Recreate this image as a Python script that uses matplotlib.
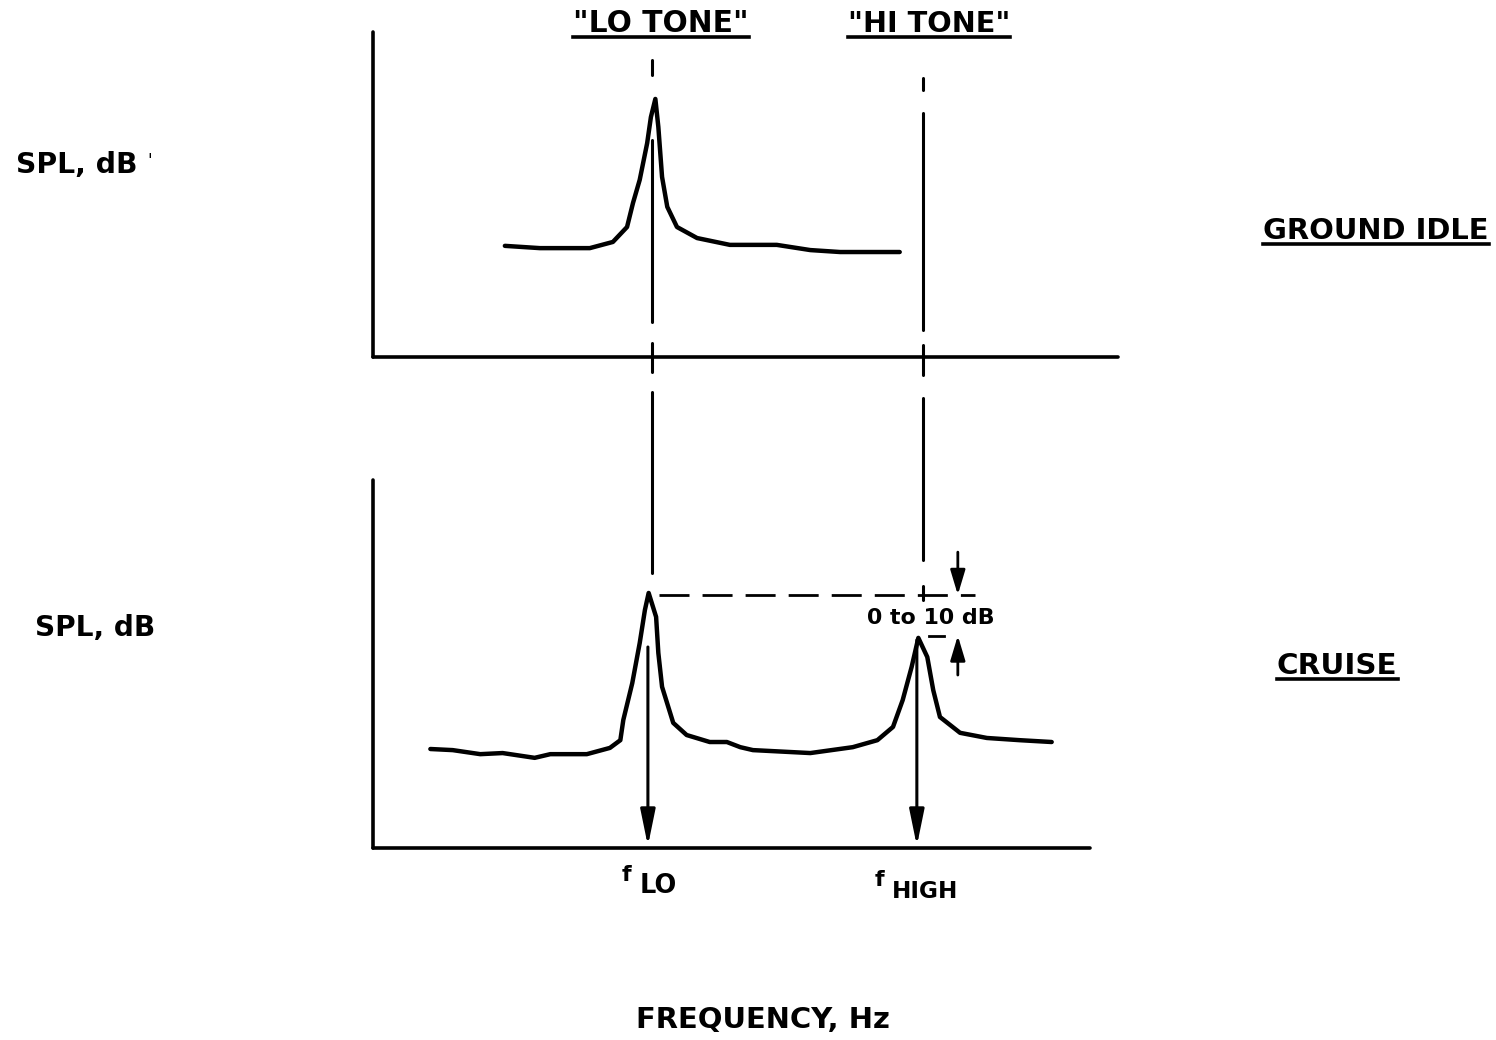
import matplotlib
matplotlib.use('Agg')
import matplotlib.pyplot as plt
import matplotlib.transforms as mtransforms
from matplotlib.lines import Line2D

W, H = 1496, 1040
FONT = 'DejaVu Sans'

# ---------------- data (frequency in % of axis, SPL in % of axis) ----------------
freq_lo_tone = 37.5
freq_hi_tone = 73.8
arrow_freqs = [36.9, 73.0]

ground_f = [17.7, 22.4, 29.1, 32.2, 34.1, 34.9, 35.8, 36.8, 37.3, 37.9, 38.3, 38.8,
            39.5, 40.8, 43.5, 47.9, 54.2, 58.7, 62.7, 70.7]
ground_spl = [34.2, 33.5, 33.5, 35.4, 40.0, 47.4, 54.5, 65.8, 73.8, 79.4, 70.8, 55.4,
              46.2, 40.0, 36.6, 34.5, 34.5, 32.9, 32.3, 32.3]

cruise_f = [7.7, 10.7, 14.4, 17.4, 21.7, 23.8, 28.7, 31.8, 33.2, 33.6, 34.8, 35.8,
            36.5, 37.0, 38.0, 38.3, 38.8, 40.3, 42.1, 45.2, 47.5, 49.3, 51.0, 58.7,
            64.4, 67.7, 69.8, 71.1, 72.3, 73.2, 74.4, 75.2, 76.1, 78.8, 82.4, 86.8, 91.1]
cruise_spl = [26.9, 26.6, 25.5, 25.8, 24.5, 25.5, 25.5, 27.2, 29.3, 34.8, 44.8, 55.7,
              64.7, 69.3, 62.8, 53.0, 43.8, 34.0, 30.7, 28.8, 28.8, 27.4, 26.6, 25.8,
              27.4, 29.3, 32.9, 40.2, 49.2, 57.1, 51.9, 42.9, 35.6, 31.3, 29.9, 29.3, 28.8]

lo_peak_level = 68.8
hi_peak_level = 57.7

tone_labels = ['"LO TONE"', '"HI TONE"']
panel_labels = ['GROUND IDLE', 'CRUISE']
y_label = 'SPL, dB'
x_label = 'FREQUENCY, Hz'
level_label = '0 to 10 dB'
freq_sym = 'f'
freq_subs = ['LO', 'HIGH']

# ---------------- figure ----------------
fig = plt.figure(figsize=(W / 100, H / 100), dpi=100)
fig.patch.set_facecolor('white')


def fx(px):
    return px / W


def fy(py):
    return 1 - py / H


left, right = 373, 1118
ax_top = fig.add_axes([fx(left), fy(357), (right - left) / W, (357 - 32) / H])
ax_bot = fig.add_axes([fx(left), fy(848), (right - left) / W, (848 - 480) / H])
for ax in (ax_top, ax_bot):
    ax.set_xlim(0, 100)
    ax.set_ylim(0, 100)
    ax.spines['top'].set_visible(False)
    ax.spines['right'].set_visible(False)
    for s in ('left', 'bottom'):
        ax.spines[s].set_linewidth(2.6)
        ax.spines[s].set_capstyle('round')
    ax.set_xticks([])
    ax.set_yticks([])
    ax.patch.set_visible(False)
ax_bot.spines['bottom'].set_bounds(0, 96.2)

ax_top.plot(ground_f, ground_spl, color='black', lw=3.2,
            solid_joinstyle='round', solid_capstyle='round')
ax_bot.plot(cruise_f, cruise_spl, color='black', lw=3.2,
            solid_joinstyle='round', solid_capstyle='round')

# vertical tone lines (x in data, y in pixels from top)
pix = mtransforms.Affine2D().scale(1, -1).translate(0, H)
blend = mtransforms.blended_transform_factory(ax_bot.transData, pix)
lo_segments = [(60, 75), (140, 322), (343, 372), (392, 573)]
hi_segments = [(78, 90), (113, 330), (345, 375), (398, 560), (586, 600)]
for f, segs in ((freq_lo_tone, lo_segments), (freq_hi_tone, hi_segments)):
    for a, b in segs:
        ax_bot.plot([f, f], [a, b], transform=blend, color='black', lw=2.2,
                    solid_capstyle='round', clip_on=False)

for f, start in zip(arrow_freqs, (647, 640)):
    ax_bot.annotate('', xy=(f, 846), xytext=(f, start), xycoords=blend, textcoords=blend,
                    arrowprops=dict(arrowstyle='-|>,head_length=2.2,head_width=0.45',
                                    color='black', lw=2.2, shrinkA=0, shrinkB=0),
                    annotation_clip=False)

# level difference markers
lw_d = 2.0
ax_bot.plot([38.4, 80.8], [lo_peak_level, lo_peak_level], color='black', lw=lw_d,
            dashes=(21.6 / lw_d, 9.4 / lw_d), clip_on=False)
ax_bot.plot([74.6, 76.6], [hi_peak_level, hi_peak_level], color='black', lw=lw_d,
            clip_on=False)
dim_f = 78.5
ax_bot.annotate('', xy=(dim_f, lo_peak_level), xytext=(dim_f, 80.4),
                arrowprops=dict(arrowstyle='-|>,head_length=1.5,head_width=0.45',
                                color='black', lw=2.0, shrinkA=0, shrinkB=0),
                annotation_clip=False)
ax_bot.annotate('', xy=(dim_f, hi_peak_level), xytext=(dim_f, 47.0),
                arrowprops=dict(arrowstyle='-|>,head_length=1.5,head_width=0.45',
                                color='black', lw=2.0, shrinkA=0, shrinkB=0),
                annotation_clip=False)

renderer = fig.canvas.get_renderer()


def label(text, x_left, baseline, width, underline=False, size_scale=1.0):
    t = fig.text(fx(x_left), fy(baseline), text, ha='left', va='baseline',
                 fontsize=20, fontweight='bold', family=FONT)
    w = t.get_window_extent(renderer).width
    t.set_fontsize(20 * width / w * size_scale)
    if underline:
        bb = t.get_window_extent(renderer)
        fig.add_artist(Line2D([bb.x0, bb.x1], [H - baseline - 5, H - baseline - 5],
                              transform=mtransforms.IdentityTransform(),
                              color='black', lw=2.6))
    return t


label(tone_labels[0], 573, 32, 175, underline=True)
label(tone_labels[1], 848, 32, 162, underline=True)
label(panel_labels[0], 1263, 239, 225, underline=True)
label(panel_labels[1], 1277, 674, 120, underline=True)
label(y_label, 16, 173, 121)
fig.text(fx(147), fy(166), "'", fontsize=12, family=FONT, ha='left', va='baseline')
label(y_label, 35, 636, 120)
label(x_label, 636, 1028, 254)

# level text
t = ax_bot.text(74.8, 62.5, level_label, ha='center', va='center', fontsize=17,
                fontweight='bold', family=FONT)
w = t.get_window_extent(renderer).width
t.set_fontsize(17 * 128 / w)

# f_LO, f_HIGH
for fleft, fbase in ((622, 881), (875, 886)):
    fig.text(fx(fleft), fy(fbase), freq_sym, fontsize=16, fontweight='bold',
             family=FONT, ha='left', va='baseline')
label(freq_subs[0], 640, 893, 37)
label(freq_subs[1], 892, 898, 66)

fig.savefig('out.png', dpi=100)
